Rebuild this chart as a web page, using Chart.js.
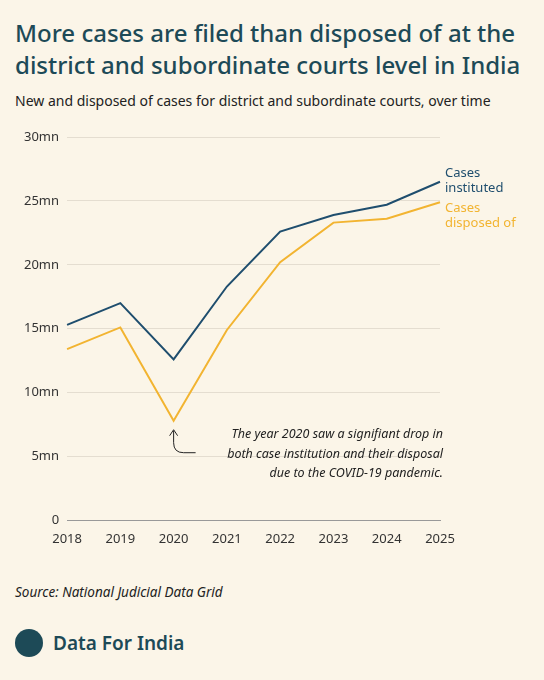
<!DOCTYPE html>
<html>
<head>
<meta charset="utf-8">
<script src="https://cdn.jsdelivr.net/npm/chart.js@4"></script>
<style>
  body { margin: 0; background: #fbf5e8; font-family: "Noto Sans", sans-serif; }
  .wrap { position: relative; width: 544px; height: 680px; overflow: hidden; }
  h1 { position: absolute; left: 15px; top: 17px; margin: 0; width: 520px; font-size: 24px; line-height: 32px; font-weight: 500; color: #1d4a57; }
  .sub { position: absolute; left: 15px; top: 91px; font-size: 14px; color: #222; }
  .src { position: absolute; left: 15px; top: 583px; font-size: 13.5px; font-style: italic; color: #222; }
  .logo { position: absolute; left: 15px; top: 629px; display: flex; align-items: center; }
  .dot { width: 28px; height: 28px; border-radius: 50%; background: #1d4a57; margin-right: 10px; }
  .logo span { font-size: 19px; font-weight: 600; color: #1d4a57; }
  canvas { position: absolute; left: 0; top: 118px; }
</style>
</head>
<body>
<div class="wrap">
  <h1>More cases are filed than disposed of at the district and subordinate courts level in India</h1>
  <div class="sub">New and disposed of cases for district and subordinate courts, over time</div>
  <canvas id="chart" width="544" height="440"></canvas>
  <div class="src">Source: National Judicial Data Grid</div>
  <div class="logo"><div class="dot"></div><span>Data For India</span></div>
</div>
<script>
const years = ['2018', '2019', '2020', '2021', '2022', '2023', '2024', '2025'];
const instituted = [15.3, 17.0, 12.6, 18.3, 22.6, 23.9, 24.7, 26.5];
const disposed = [13.4, 15.1, 7.8, 14.9, 20.2, 23.3, 23.6, 24.9];
const yTicks = [0, 5, 10, 15, 20, 25, 30];

const blue = '#1f4e6e';
const yellow = '#f2b431';

// labels at line ends + covid annotation
const extras = {
    id: 'extras',
    afterDatasetsDraw(chart) {
        const c = chart.ctx;
        const x = chart.scales.x, y = chart.scales.y;
        c.save();
        c.font = '13px "Noto Sans"';
        c.textBaseline = 'middle';
        c.textAlign = 'left';
        const ex = x.getPixelForValue(7) + 5;
        c.fillStyle = blue;
        c.fillText('Cases', ex, y.getPixelForValue(26.5) - 8);
        c.fillText('instituted', ex, y.getPixelForValue(26.5) + 7);
        c.fillStyle = yellow;
        c.fillText('Cases', ex, y.getPixelForValue(24.9) + 6);
        c.fillText('disposed of', ex, y.getPixelForValue(24.9) + 21);

        // annotation
        const ax = x.getPixelForValue(2), ay = y.getPixelForValue(7.8);
        c.strokeStyle = '#222';
        c.lineWidth = 1;
        c.beginPath();
        c.moveTo(ax, ay + 10);
        c.lineTo(ax, ay + 22);
        c.quadraticCurveTo(ax, ay + 32, ax + 10, ay + 32);
        c.lineTo(ax + 22, ay + 32);
        c.stroke();
        c.beginPath();
        c.moveTo(ax - 4, ay + 15);
        c.lineTo(ax, ay + 9);
        c.lineTo(ax + 4, ay + 15);
        c.stroke();
        c.fillStyle = '#222';
        c.font = 'italic 12.5px "Noto Sans"';
        c.textAlign = 'right';
        const tx = x.getPixelForValue(7) + 3;
        c.fillText('The year 2020 saw a signifiant drop in', tx, ay + 14);
        c.fillText('both case institution and their disposal', tx, ay + 34);
        c.fillText('due to the COVID-19 pandemic.', tx, ay + 53);
        c.restore();
    }
};

new Chart(document.getElementById('chart').getContext('2d'), {
    type: 'line',
    data: {
        labels: years,
        datasets: [{
            label: 'Cases instituted',
            data: instituted,
            borderColor: blue,
            borderWidth: 2,
            pointRadius: 0,
            tension: 0
        }, {
            label: 'Cases disposed of',
            data: disposed,
            borderColor: yellow,
            borderWidth: 2,
            pointRadius: 0,
            tension: 0
        }]
    },
    options: {
        responsive: false,
        animation: false,
        layout: { padding: { top: 19, right: 104, left: 16, bottom: 8 } },
        plugins: { legend: { display: false }, tooltip: { enabled: false } },
        scales: {
            x: {
                offset: false,
                grid: { display: false, drawTicks: true },
                border: { color: '#999' },
                ticks: { color: '#333', font: { size: 13, family: 'Noto Sans' } }
            },
            y: {
                min: 0, max: 30,
                afterBuildTicks: axis => { axis.ticks = yTicks.map(v => ({ value: v })); },
                grid: { color: '#e4ddd0', drawTicks: false },
                border: { display: false },
                ticks: {
                    color: '#333', padding: 8,
                    font: { size: 13, family: 'Noto Sans' },
                    callback: v => v === 0 ? '0' : v + 'mn'
                }
            }
        }
    },
    plugins: [extras]
});
</script>
</body>
</html>
